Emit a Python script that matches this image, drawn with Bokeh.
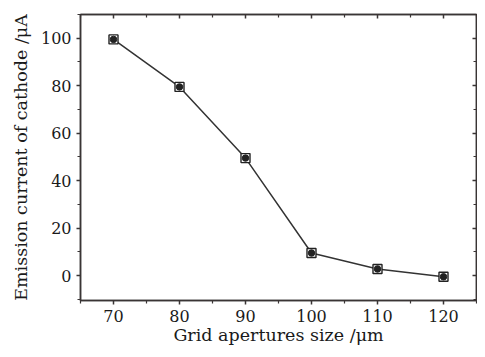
from bokeh.plotting import figure
from bokeh.models import LinearAxis, Range1d, FixedTicker, CustomJSTickFormatter
from bokeh.embed import file_html
from bokeh.resources import INLINE

# Data
aperture = [70, 80, 90, 100, 110, 120]
current = [99.5, 79.5, 49.5, 9.5, 2.8, -0.5]
x_ticks = [70, 80, 90, 100, 110, 120]
x_minor = [65, 75, 85, 95, 105, 115, 125]
y_ticks = [0, 20, 40, 60, 80, 100]
y_minor = [-10, 10, 30, 50, 70, 90, 110]

FONT = "DejaVu Serif"
AX = "#3a3535"

p = figure(width=477, height=349, output_backend="svg", toolbar_location=None,
           x_range=Range1d(65, 125), y_range=Range1d(-10.5, 110),
           x_axis_label="Grid apertures size /\u03bcm",
           y_axis_label="Emission current of cathode /\u03bcA")
p.min_border_left = 80
p.min_border_right = 1
p.min_border_top = 14
p.min_border_bottom = 49
p.grid.visible = False
p.outline_line_color = AX
p.outline_line_width = 1.5
p.background_fill_color = "white"
p.border_fill_color = "white"

for ax in (p.xaxis[0], p.yaxis[0]):
    ax.axis_line_color = AX
    ax.axis_line_width = 1.5
    ax.major_tick_line_color = AX
    ax.minor_tick_line_color = AX
    ax.major_tick_line_width = 1.5
    ax.minor_tick_line_width = 1.2
    ax.major_tick_out = 4
    ax.major_tick_in = 0
    ax.minor_tick_out = 3
    ax.minor_tick_in = 0
    ax.major_label_text_font = FONT
    ax.major_label_text_font_size = "16px"
    ax.major_label_text_color = "#1a1a1a"
    ax.axis_label_text_font = FONT
    ax.axis_label_text_font_size = "17.5px"
    ax.axis_label_text_font_style = "normal"
    ax.axis_label_text_color = "#1a1a1a"

p.xaxis[0].ticker = FixedTicker(ticks=x_ticks, minor_ticks=x_minor)
p.yaxis[0].ticker = FixedTicker(ticks=y_ticks, minor_ticks=y_minor)
p.xaxis[0].major_label_standoff = 5
p.xaxis[0].axis_label_standoff = 0
p.yaxis[0].major_label_standoff = 5
p.yaxis[0].axis_label_standoff = 7

top = LinearAxis(ticker=FixedTicker(ticks=x_ticks, minor_ticks=x_minor),
                 formatter=CustomJSTickFormatter(code="return ''"))
right = LinearAxis(ticker=FixedTicker(ticks=y_ticks, minor_ticks=y_minor),
                   formatter=CustomJSTickFormatter(code="return ''"))
for ax in (top, right):
    ax.axis_line_color = AX
    ax.axis_line_width = 1.5
    ax.major_tick_line_color = AX
    ax.minor_tick_line_color = AX
    ax.major_tick_line_width = 1.5
    ax.minor_tick_line_width = 1.2
    ax.major_tick_out = 0
    ax.major_tick_in = 4
    ax.minor_tick_out = 0
    ax.minor_tick_in = 3
    ax.major_label_standoff = 0
p.add_layout(top, "above")
p.add_layout(right, "right")

p.line(aperture, current, line_color="#333333", line_width=1.5)
p.scatter(aperture, current, marker="square", size=9, fill_color="white",
          line_color="#222222", line_width=1.4)
p.scatter(aperture, current, marker="circle", size=6.5, fill_color="#222222",
          line_color="#222222")

open("out.html", "w").write(file_html(p, INLINE))
